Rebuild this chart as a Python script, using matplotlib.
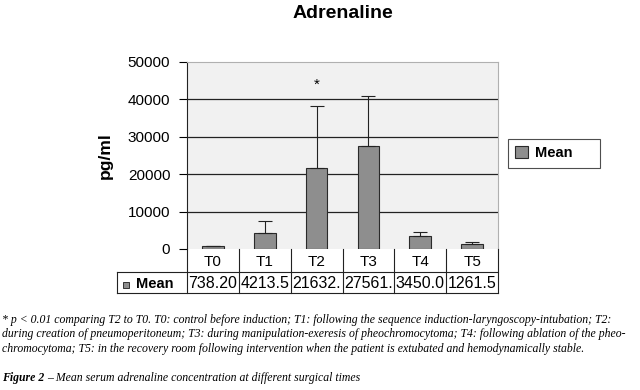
import matplotlib
matplotlib.use("Agg")
import matplotlib.pyplot as plt
from matplotlib.patches import Rectangle

# data
times = ["T0", "T1", "T2", "T3", "T4", "T5"]
means = [738.20, 4213.5, 21632, 27561, 3450.0, 1261.5]
mean_text = ["738.20", "4213.5", "21632.", "27561.", "3450.0", "1261.5"]
sd = [160, 3290, 16570, 13440, 1150, 490]
yticks = [0, 10000, 20000, 30000, 40000, 50000]

plt.rcParams['font.family'] = ['Liberation Sans', 'DejaVu Sans']

fig = plt.figure(figsize=(6.4, 3.9), dpi=100)
W, H = 640, 390
# plot area in pixels: x 187..498, y 62..249 (from top)
ax = fig.add_axes([187 / W, 1 - 249 / H, 311 / W, 187 / H])
ax.set_facecolor('#f1f1f1')

x = range(len(times))
bars = ax.bar(x, means, width=0.42, color='#8e8e8e', edgecolor='#2a2a2a', linewidth=0.8,
              yerr=[[0] * len(sd), sd], capsize=5,
              error_kw=dict(elinewidth=0.8, capthick=0.8, ecolor='#222222'), zorder=3)
for t in yticks[1:-1]:
    ax.axhline(t, color='#222222', linewidth=0.9, zorder=1)

ax.text(2, 43800, '*', ha='center', va='center', fontsize=11)

ax.set_xlim(-0.5, 5.5)
ax.set_ylim(0, 50000)
ax.set_yticks(yticks)
ax.set_yticklabels([str(t) for t in yticks], fontsize=11)
ax.tick_params(axis='y', length=6, width=0.8, pad=6)
ax.set_xticks([])
for s in ['top', 'right']:
    ax.spines[s].set_color('#b0b0b0')
ax.spines['left'].set_color('#222222')
ax.spines['bottom'].set_visible(False)

ax.set_ylabel('pg/ml', fontsize=12.5, fontweight='bold', labelpad=11)
ax.set_title('Adrenaline', fontsize=14, fontweight='bold', pad=32)

# data table under the axis, drawn by hand in figure pixels
def fx(px):
    return px / W

def fy(py):
    return 1 - py / H

left, x0, x1 = 117, 187, 498
r0, r1, r2 = 249, 272, 293
cw = (x1 - x0) / len(times)
lc = '#222222'
lw = 0.8
fig.add_artist(plt.Line2D([fx(left), fx(x1)], [fy(r1), fy(r1)], color=lc, lw=lw))
fig.add_artist(plt.Line2D([fx(left), fx(x1)], [fy(r2), fy(r2)], color=lc, lw=lw))
fig.add_artist(plt.Line2D([fx(left), fx(left)], [fy(r1), fy(r2)], color=lc, lw=lw))
for i in range(len(times) + 1):
    xx = x0 + i * cw
    fig.add_artist(plt.Line2D([fx(xx), fx(xx)], [fy(r0), fy(r2)], color=lc, lw=lw))
for i, (t, m) in enumerate(zip(times, mean_text)):
    fig.text(fx(x0 + (i + 0.5) * cw), fy((r0 + r1) / 2 + 1), t, ha='center', va='center', fontsize=11)
    fig.text(fx(x0 + i * cw + 1.5), fy((r1 + r2) / 2 + 1), m, ha='left', va='center', fontsize=11.5)
fig.add_artist(Rectangle((fx(123), fy(288)), 6 / W, 6 / H, transform=fig.transFigure,
                         facecolor='#8e8e8e', edgecolor='#333333', linewidth=0.7))
fig.text(fx(136), fy((r1 + r2) / 2 + 1), 'Mean', ha='left', va='center', fontsize=10.5, fontweight='bold')

leg = ax.legend([bars], ['Mean     '], loc='upper left', bbox_to_anchor=(508 / W, 1 - 139 / H),
                bbox_transform=fig.transFigure,
                frameon=True, fancybox=False, edgecolor='#222222', prop=dict(weight='bold', size=10.5),
                handlelength=0.85, handleheight=0.85, borderpad=0.5, handletextpad=0.5, borderaxespad=0)
leg.get_frame().set_linewidth(0.8)

cap_font = dict(family=['Liberation Serif', 'DejaVu Serif'], style='italic', fontsize=8.5)
lines = [
    "* p < 0.01 comparing T2 to T0. T0: control before induction; T1: following the sequence induction-laryngoscopy-intubation; T2:",
    "during creation of pneumoperitoneum; T3: during manipulation-exeresis of pheochromocytoma; T4: following ablation of the pheo-",
    "chromocytoma; T5: in the recovery room following intervention when the patient is extubated and hemodynamically stable.",
]
for i, line in enumerate(lines):
    fig.text(2 / W, 1 - (320 + 14.5 * i) / H, line, va='center', **cap_font)
fig.text(2 / W, 1 - 378 / H, "Figure 2", va='center', fontweight='bold', **cap_font)
fig.text(47 / W, 1 - 378 / H, "\u2013 Mean serum adrenaline concentration at different surgical times", va='center', **cap_font)

fig.savefig('out.png', dpi=100)
